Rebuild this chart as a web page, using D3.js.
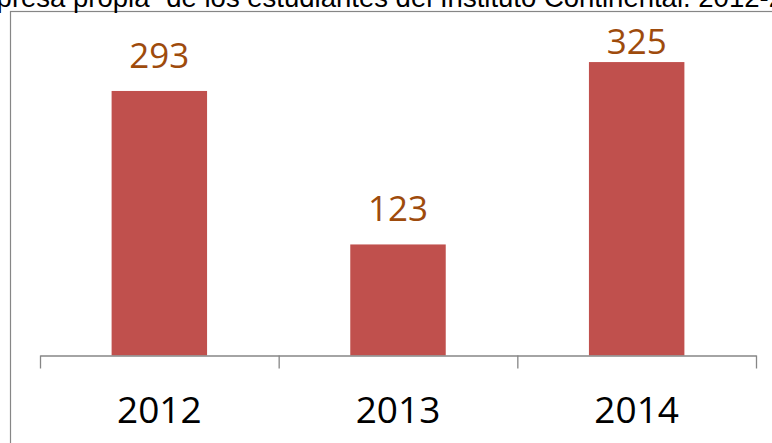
<!DOCTYPE html>
<html>
<head>
<meta charset="utf-8">
<script src="https://cdn.jsdelivr.net/npm/d3@7"></script>
<style>
  body { margin: 0; background: #fff; }
  svg { display: block; }
</style>
</head>
<body>
<script>
'use strict';
const title = '\u201CEmpresa propia\u201D de los estudiantes del Instituto Continental. 2012-2014';
const years = ['2012', '2013', '2014'];
const values = [293, 123, 325];
const yMax = 350;

(function() {
    let size = { width: 772, height: 443 };
    let plot = { left: 40, right: 756, top: 39.5, bottom: 355.5 };
    let gray = '#868686';
    let font = '"Open Sans", "Noto Sans", sans-serif';

    let svg = d3.select('body')
                .append('svg')
                .attr('width', size.width)
                .attr('height', size.height);

    // chart frame, only its top and left edges are in view
    svg.append('rect')
       .attr('x', 10.5)
       .attr('y', 11.5)
       .attr('width', 900)
       .attr('height', 600)
       .attr('fill', 'none')
       .attr('stroke', gray)
       .attr('stroke-width', 1.2);

    // title, cut off by the edges of the picture as in the source
    svg.append('text')
       .attr('x', size.width / 2 + 2)
       .attr('y', 7)
       .attr('text-anchor', 'middle')
       .style('font-family', '"Liberation Sans", Arial, sans-serif')
       .style('font-size', '27.5px')
       .attr('fill', '#000')
       .text(title);

    let x = d3.scaleBand()
              .domain(years)
              .range([plot.left, plot.right])
              .paddingInner(0.6)
              .paddingOuter(0.3);
    let y = d3.scaleLinear()
              .domain([0, yMax])
              .range([plot.bottom, plot.top]);

    // bars
    svg.selectAll('.bar')
       .data(values)
       .enter()
       .append('rect')
       .attr('class', 'bar')
       .attr('x', (d, i) => x(years[i]))
       .attr('y', (d) => y(d))
       .attr('width', x.bandwidth())
       .attr('height', (d) => y(0) - y(d))
       .attr('fill', '#C0504D');

    // category axis with ticks between the categories
    let edges = d3.scaleLinear()
                  .domain([0, years.length])
                  .range([plot.left, plot.right]);
    let tickAxis = d3.axisBottom(edges)
                     .tickValues(d3.range(years.length + 1))
                     .tickSize(13)
                     .tickSizeOuter(0)
                     .tickFormat('');
    let gTicks = svg.append('g')
                    .attr('transform', 'translate(0,' + plot.bottom + ')')
                    .call(tickAxis);
    gTicks.selectAll('path, line')
          .attr('stroke', gray)
          .attr('stroke-width', 1.3);

    let labelAxis = d3.axisBottom(x).tickSize(0);
    let gLabels = svg.append('g')
                     .attr('transform', 'translate(0,' + plot.bottom + ')')
                     .call(labelAxis);
    gLabels.select('.domain').remove();
    gLabels.selectAll('text')
           .attr('y', 423 - plot.bottom)
           .attr('dy', 0)
           .attr('fill', '#000')
           .style('font-family', font)
           .style('font-size', '37px');

    // value labels, kept inside the plot area
    let labelTop = 54;
    svg.selectAll('.value')
       .data(values)
       .enter()
       .append('text')
       .attr('class', 'value')
       .attr('x', (d, i) => x(years[i]) + x.bandwidth() / 2)
       .attr('y', (d) => Math.max(y(d) - 23, labelTop))
       .attr('text-anchor', 'middle')
       .attr('fill', '#9E4B0C')
       .style('font-family', font)
       .style('font-size', '35px')
       .text((d) => d);
})();
</script>
</body>
</html>
